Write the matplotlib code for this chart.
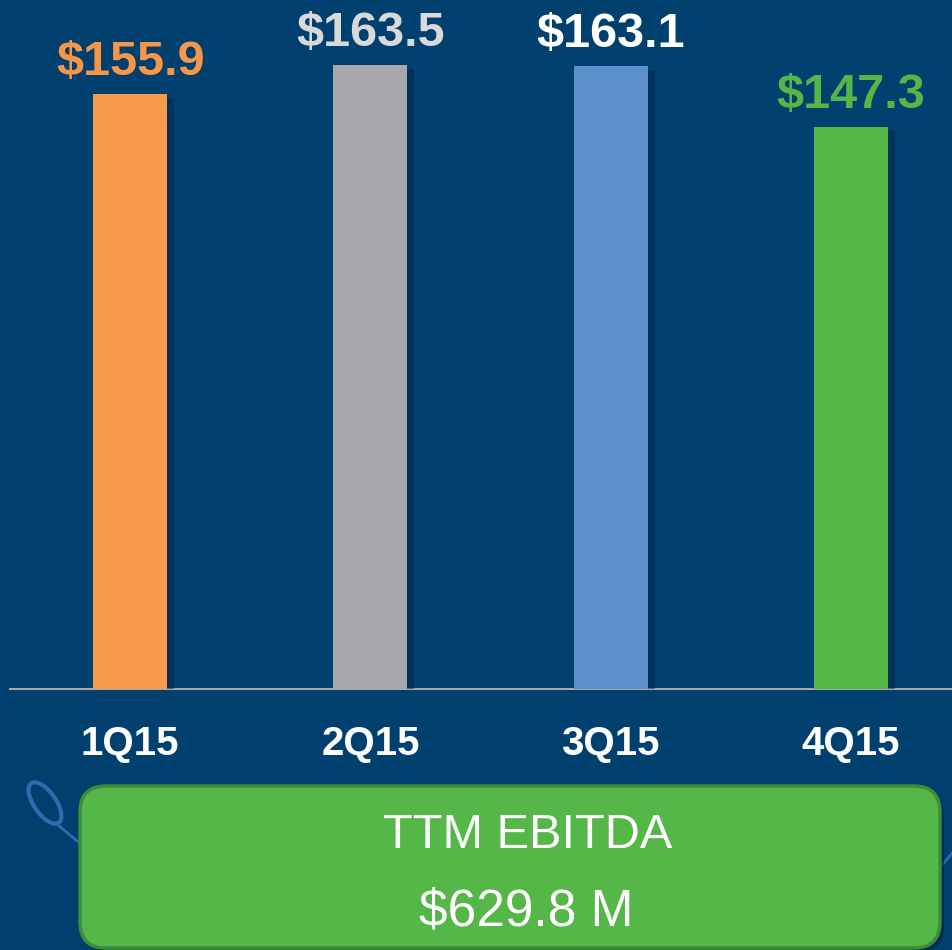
import matplotlib
matplotlib.use("Agg")
from matplotlib import pyplot as plt
from matplotlib.patches import FancyBboxPatch, Ellipse
import matplotlib.patheffects as pe

# data
quarters = ["1Q15", "2Q15", "3Q15", "4Q15"]
ebitda = [155.9, 163.5, 163.1, 147.3]
bar_colors = ["#F79A4A", "#A7A8AB", "#5B8FC9", "#55B748"]
label_colors = ["#F79646", "#D9D9D9", "#FFFFFF", "#55B748"]
ttm_title = "TTM EBITDA"
ttm_value = "$629.8 M"

bg = "#00406F"
plt.rcParams["font.family"] = ["Liberation Sans", "DejaVu Sans"]

fig = plt.figure(figsize=(9.53, 9.50), dpi=100)
fig.patch.set_facecolor(bg)

# decorative layer in pixel coordinates
deco = fig.add_axes([0, 0, 1, 1])
deco.set_xlim(0, 953)
deco.set_ylim(950, 0)
deco.axis("off")
deco.add_patch(Ellipse((45, 803), 22, 48, angle=-35, fill=False,
                       edgecolor="#2E6CAE", lw=3))
deco.plot([58, 82], [825, 845], color="#2E6CAE", lw=2)
deco.plot([938, 953], [870, 852], color="#2E6CAE", lw=2)

ax = fig.add_axes([10 / 953, (950 - 689) / 950, 943 / 953, 689 / 950])
ax.set_facecolor("none")
x = range(len(quarters))
bars = ax.bar(x, ebitda, width=0.308, color=bar_colors, zorder=3)
for b in bars:
    b.set_path_effects([pe.SimplePatchShadow(offset=(5, -3), shadow_rgbFace="#002448", alpha=0.5),
                        pe.Normal()])

for i, v in enumerate(ebitda):
    ax.text(i, v + 5.0, f"${v:.1f}", ha="center", va="baseline",
            fontsize=35, fontweight="bold", color=label_colors[i])

ax.set_xlim(-0.5, 3.425)
ax.set_ylim(0, 180.5)
ax.set_yticks([])
ax.set_xticks(list(x))
ax.set_xticklabels(quarters, fontsize=29, fontweight="bold", color="white")
ax.tick_params(axis="x", length=0, pad=26)
for s in ["top", "left", "right"]:
    ax.spines[s].set_visible(False)
ax.spines["bottom"].set_color("#A6A6A6")
ax.spines["bottom"].set_linewidth(1.5)

# TTM box
box = FancyBboxPatch((80, 786), 860, 162, boxstyle="round,pad=0,rounding_size=26",
                     facecolor="#55B748", edgecolor="#3D8C3A", lw=2.5, zorder=5)
box.set_path_effects([pe.SimplePatchShadow(offset=(3, -3), shadow_rgbFace="#002040", alpha=0.6),
                      pe.Normal()])
deco.add_patch(box)
deco.text(528, 835, ttm_title, ha="center", va="center", fontsize=35,
          color="white", zorder=6)
deco.text(526, 912, ttm_value, ha="center", va="center", fontsize=37,
          color="white", zorder=6)

plt.savefig("out.png", dpi=100, facecolor=fig.get_facecolor())
